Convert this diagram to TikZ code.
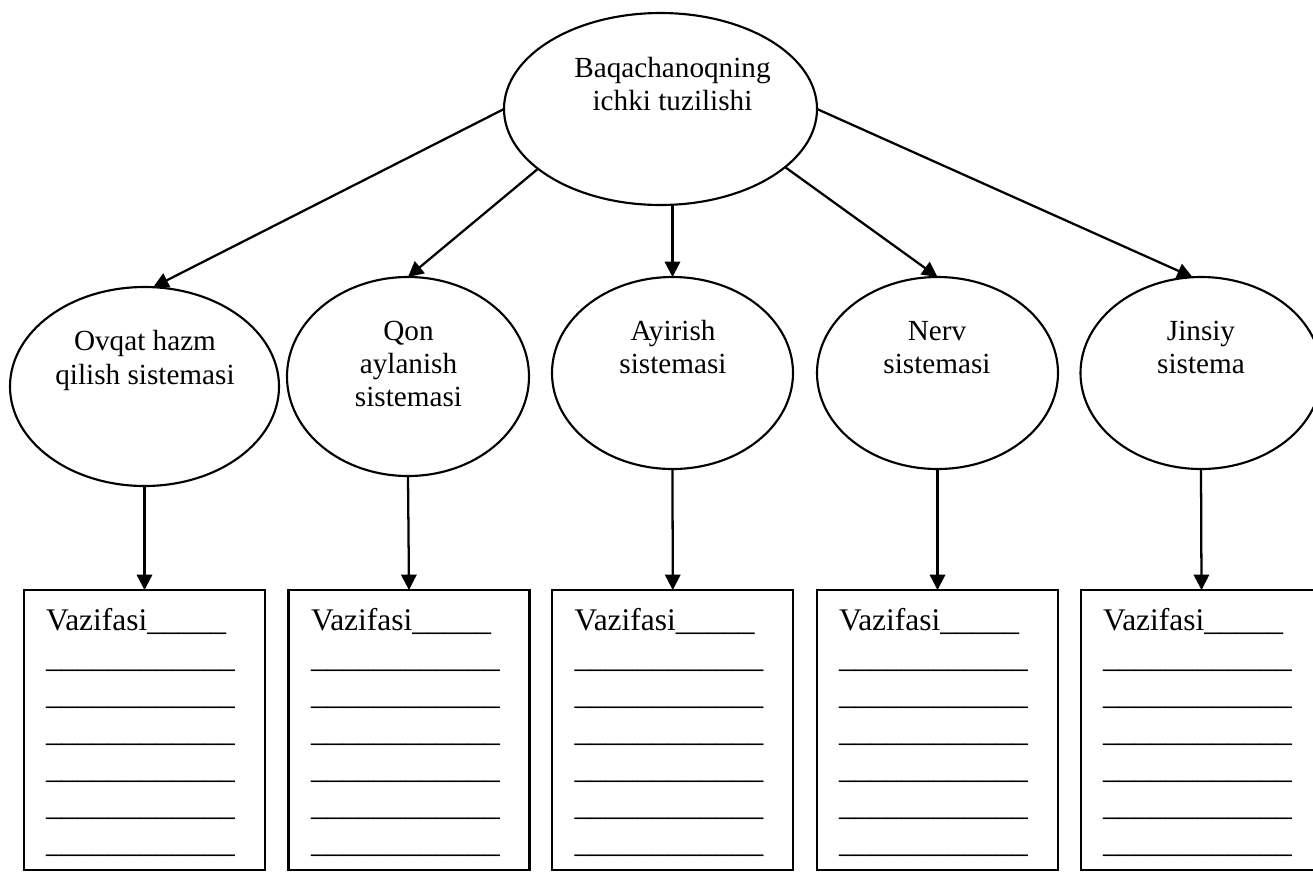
\documentclass[tikz,border=0pt]{standalone}
\usepackage{fontspec}
\setmainfont{Liberation Serif}
\usetikzlibrary{arrows.meta,shapes.geometric}
\begin{document}
\begin{tikzpicture}[x=0.75pt,y=-0.75pt,
  every node/.style={inner sep=0pt,outer sep=0pt},
  oval/.style={draw,ellipse,line width=1.6pt},
  card/.style={draw,rectangle,line width=1.6pt,minimum width=180.75pt,minimum height=210pt},
  conn/.style={line width=1.7pt,-{Triangle[length=11.5pt,width=11.5pt]}},
  ovaltext/.style={anchor=base,font=\fontsize{21.9}{24.75}\selectfont},
  cardtext/.style={anchor=base west,font=\fontsize{23.6}{27.75}\selectfont}]
\useasboundingbox (0,0) rectangle (1313,872);
\clip (0,0) rectangle (1313,872);

% root and the five organ systems
\node[oval,minimum width=234.75pt,minimum height=144pt] (top) at (660.5,109) {};
\node[oval,minimum width=201.75pt,minimum height=149.25pt] (ov) at (144.5,386.5) {};
\node[oval,minimum width=181.5pt,minimum height=149.25pt] (qon) at (408,376.5) {};
\node[oval,minimum width=180.75pt,minimum height=144pt] (ay) at (672.5,373) {};
\node[oval,minimum width=180.75pt,minimum height=144pt] (ne) at (937.5,373) {};
\node[oval,minimum width=180.75pt,minimum height=144pt] (ji) at (1201,373) {};

% labels inside the ellipses
\node[ovaltext] (t0a) at (672.5,77) {Baqachanoqning};
\node[ovaltext] (t0b) at (672.5,110) {ichki tuzilishi};
\node[ovaltext] (t1a) at (145,350) {Ovqat hazm};
\node[ovaltext] (t1b) at (145,384) {qilish sistemasi};
\node[ovaltext] (t2a) at (408.5,340) {Qon};
\node[ovaltext] (t2b) at (408.5,373) {aylanish};
\node[ovaltext] (t2c) at (408.5,406) {sistemasi};
\node[ovaltext] (t3a) at (673,340) {Ayirish};
\node[ovaltext] (t3b) at (673,373) {sistemasi};
\node[ovaltext] (t4a) at (937,340) {Nerv};
\node[ovaltext] (t4b) at (937,373) {sistemasi};
\node[ovaltext] (t5a) at (1201,340) {Jinsiy};
\node[ovaltext] (t5b) at (1201,373) {sistema};

% answer cards
\node[card] (b1) at (144.5,730) {};
\node[card] (b2) at (409,730) {};
\node[card] (b3) at (672.75,730) {};
\node[card] (b4) at (937.5,730) {};
\node[card] (b5) at (1201.5,730) {};

\foreach \i/\x in {1/46,2/311,3/574.5,4/839,5/1103}{
  \node[cardtext] (v\i) at (\x,630) {Vazifasi\_\_\_\_\_};
  \foreach \j in {1,...,6}{
    \node[cardtext] (u\i\j) at (\x,630+37*\j) {\_\_\_\_\_\_\_\_\_\_\_\_};
  }
}

% connectors
\draw[conn] (top.180) -- (ov.85);
\draw[conn] (top.206.5) -- (qon.north);
\draw[conn] (top.south -| ay.north) -- (ay.north);
\draw[conn] (top.-25.5) -- (ne.north);
\draw[conn] (top.0) -- (ji.95);

\draw[conn] (ov.south) -- (b1.north);
\draw[conn] (qon.south) -- (b2.north);
\draw[conn] (ay.south) -- (b3.north);
\draw[conn] (ne.south) -- (b4.north);
\draw[conn] (ji.south) -- (b5.north);
\end{tikzpicture}
\end{document}
